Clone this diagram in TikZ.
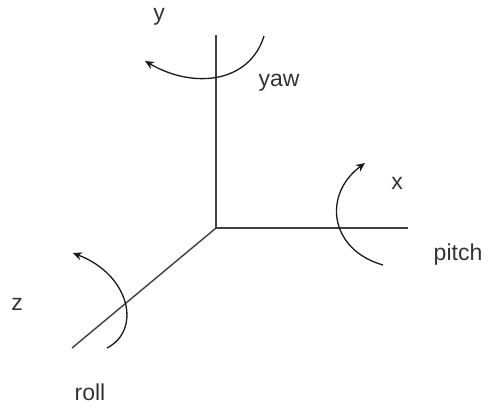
\documentclass[tikz,border=0pt]{standalone}
\usepackage{fontspec}
\setmainfont{Liberation Sans}
\usetikzlibrary{arrows.meta}
\begin{document}
\begin{tikzpicture}[x=1pt,y=-1pt,
  axis/.style={draw=black!75,line width=1.8pt},
  rot/.style={draw=black!90,line width=1.3pt,-{Stealth[length=9pt,width=8pt]}},
  lbl/.style={font=\fontsize{23}{23}\selectfont,text=black!80,inner sep=0pt}]
\useasboundingbox (0,0) rectangle (490,408);
\coordinate (o) at (216,228);
\coordinate (ytop) at (216,35);
\coordinate (xend) at (408,228);
\coordinate (zend) at (72,348);
\draw[axis] (o) -- (ytop);
\draw[axis] (o) -- (xend);
\draw[axis,line width=1.4pt] (o) -- (zend);
% yaw
\coordinate (ya) at (264,36);
\coordinate (yb) at (145,61);
\draw[rot] (ya) .. controls (250,82) and (195,90) .. (yb);
% pitch
\coordinate (pa) at (383,265);
\coordinate (pb) at (365,163);
\draw[rot] (pa) .. controls (330,250) and (322,195) .. (pb);
% roll
\coordinate (ra) at (107,348);
\coordinate (rb) at (73,253);
\draw[rot] (ra) .. controls (142,330) and (130,275) .. (rb);
% labels
\node[lbl] (ly) at (159,17) {y};
\node[lbl] (lyaw) at (279,83) {yaw};
\node[lbl] (lx) at (397,183) {x};
\node[lbl] (lpitch) at (458,255) {pitch};
\node[lbl] (lz) at (17,304) {z};
\node[lbl] (lroll) at (90,392) {roll};
\end{tikzpicture}
\end{document}
